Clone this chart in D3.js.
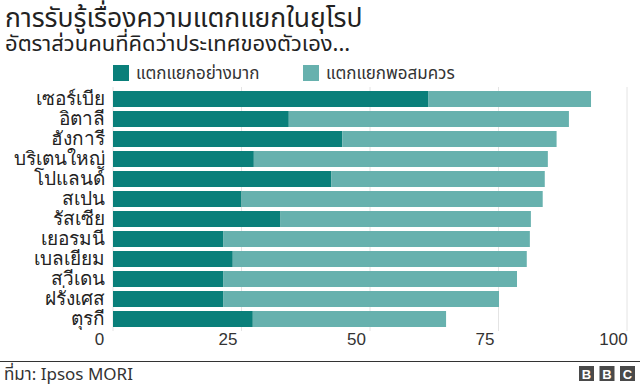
<!DOCTYPE html>
<html>
<head>
<meta charset="utf-8">
<script src="https://cdn.jsdelivr.net/npm/d3@7"></script>
<style>
  body { margin: 0; background: #fff; }
  svg { display: block; font-family: Tahoma, "Noto Sans Thai", "Noto Sans", "DejaVu Sans", sans-serif; }
</style>
</head>
<body>
<svg width="640" height="384"></svg>
<script>
// countries, top to bottom
var countries = ["เซอร์เบีย", "อิตาลี", "ฮังการี", "บริเตนใหญ่", "โปแลนด์", "สเปน",
                 "รัสเซีย", "เยอรมนี", "เบลเยียม", "สวีเดน", "ฝรั่งเศส", "ตุรกี"];
// "very divided"
var veryDivided = [61.3, 34.2, 44.6, 27.4, 42.5, 25, 32.6, 21.5, 23.3, 21.5, 21.5, 27.2];
// "fairly divided"
var fairlyDivided = [31.7, 54.5, 41.7, 57.2, 41.5, 58.6, 48.7, 59.6, 57.2, 57.1, 53.6, 37.6];
var seriesNames = ["แตกแยกอย่างมาก", "แตกแยกพอสมควร"];
var xTicks = [0, 25, 50, 75, 100];

var colors = ["#0a7f7a", "#67b1ae"];

var svg = d3.select("svg");

var x = d3.scaleLinear().domain([0, 100]).range([113, 627]);
var y = d3.scaleBand().domain(countries).range([89, 329]).paddingInner(0.2).paddingOuter(0.1);

// title
svg.append("text").attr("x", 5).attr("y", 27)
    .attr("font-size", 26.5).attr("fill", "#222")
    .text("การรับรู้เรื่องความแตกแยกในยุโรป");
svg.append("text").attr("x", 5).attr("y", 51)
    .attr("font-size", 22).attr("fill", "#222")
    .text("อัตราส่วนคนที่คิดว่าประเทศของตัวเอง...");

// legend
var legendX = [113, 303];
seriesNames.forEach(function (name, i) {
    svg.append("rect").attr("x", legendX[i]).attr("y", 65)
        .attr("width", 16).attr("height", 16).attr("fill", colors[i]);
    svg.append("text").attr("x", legendX[i] + 23).attr("y", 79)
        .attr("font-size", 17).attr("fill", "#333").text(name);
});

// grid
svg.append("g").selectAll("line")
    .data(xTicks)
    .enter().append("line")
    .attr("x1", function (d) { return x(d); })
    .attr("x2", function (d) { return x(d); })
    .attr("y1", 87).attr("y2", 331)
    .attr("stroke", "#e4e4e4").attr("stroke-width", 1);

// x axis labels (BBC style, nudged left of gridline)
var xAxis = svg.append("g")
    .attr("transform", "translate(-14,333)")
    .call(d3.axisBottom(x).tickValues(xTicks).tickSize(0).tickPadding(0));
xAxis.select(".domain").remove();
xAxis.selectAll("text")
    .attr("font-size", 17).attr("fill", "#333")
    .attr("font-family", null).attr("dy", "0.71em");

// stacked bars
var rows = countries.map(function (c, i) {
    return { country: c, a: veryDivided[i], b: fairlyDivided[i] };
});
var stack = d3.stack().keys(["a", "b"])(rows);

svg.append("g").selectAll("g")
    .data(stack)
    .enter().append("g")
    .attr("fill", function (d, i) { return colors[i]; })
    .selectAll("rect")
    .data(function (d) { return d; })
    .enter().append("rect")
    .attr("x", function (d) { return x(d[0]); })
    .attr("y", function (d) { return y(d.data.country); })
    .attr("width", function (d) { return x(d[1]) - x(d[0]); })
    .attr("height", y.bandwidth());

// y labels
var yAxis = svg.append("g")
    .attr("transform", "translate(105,0)")
    .call(d3.axisLeft(y).tickSize(0).tickPadding(0));
yAxis.select(".domain").remove();
yAxis.selectAll("text")
    .attr("font-size", 19).attr("fill", "#222").attr("font-family", null);

// footer
svg.append("line").attr("x1", 0).attr("x2", 640).attr("y1", 361.5).attr("y2", 361.5)
    .attr("stroke", "#333").attr("stroke-width", 1);
svg.append("text").attr("x", 4).attr("y", 380)
    .attr("font-size", 17).attr("fill", "#333").text("ที่มา: Ipsos MORI");

var logo = svg.append("g");
["B", "B", "C"].forEach(function (letter, i) {
    var lx = 579 + i * 20.5;
    logo.append("rect").attr("x", lx).attr("y", 366)
        .attr("width", 15).attr("height", 15).attr("fill", "#4a4a4a");
    logo.append("text").attr("x", lx + 7.5).attr("y", 378.5)
        .attr("text-anchor", "middle").attr("font-size", 13).attr("font-weight", "bold")
        .attr("fill", "#fff").attr("font-family", "Arial, Liberation Sans, sans-serif")
        .text(letter);
});
</script>
</body>
</html>
